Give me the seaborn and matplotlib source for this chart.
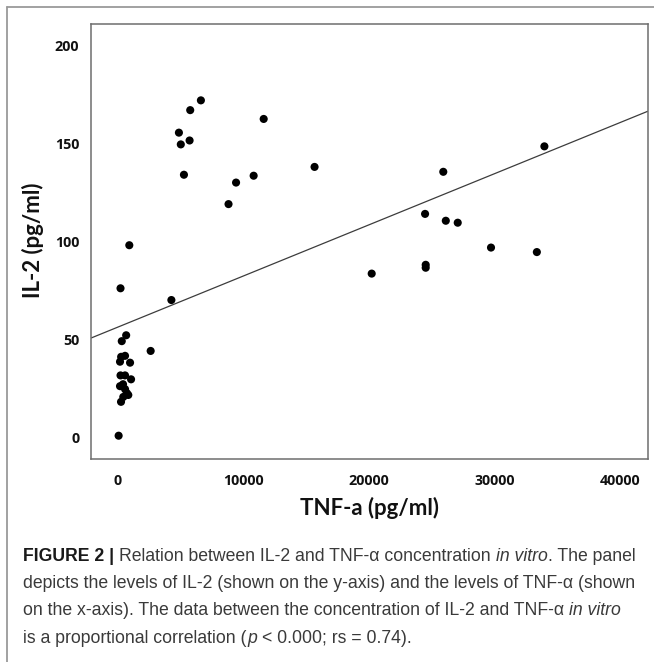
import matplotlib
matplotlib.use("Agg")
import matplotlib.pyplot as plt
import seaborn as sns
from matplotlib.lines import Line2D

# Values
tnf_pgml = [
    6600, 5750, 11600, 4850, 5700, 5000, 15650, 5250, 10800, 9400, 8800, 900, 200, 4250,
    25900, 33950, 24450, 26100, 27050, 29700, 33350, 20200, 24500, 24500,
    300, 650, 2600, 160, 560, 960, 250, 560, 1040, 200, 160, 560, 820, 420, 240, 50, 400, 700,
]
il2_pgml = [
    172, 167, 162.5, 155.5, 151.5, 149.5, 138, 134, 133.5, 130, 119, 98, 76, 70,
    135.5, 148.5, 114, 110.5, 109.5, 96.8, 94.5, 83.5, 88, 86.5,
    49, 52, 44, 38.5, 41.5, 38, 41, 31.5, 29.5, 31.5, 26, 24.5, 21.5, 20.5, 18, 0.7, 27, 22.5,
]

# fitted line
fit_intercept = 56.2
fit_slope = 0.002613

x_ticks = [0, 10000, 20000, 30000, 40000]
y_ticks = [0, 50, 100, 150, 200]

x_label = "TNF-a (pg/ml)"
y_label = "IL-2 (pg/ml)"

# caption runs: (text, weight, style, space after)
caption_lines = [
    [("FIGURE 2 |", "bold", "normal", True),
     ("Relation between IL-2 and TNF-α concentration", "normal", "normal", True),
     ("in vitro", "normal", "italic", False),
     (". The panel", "normal", "normal", False)],
    [("depicts the levels of IL-2 (shown on the y-axis) and the levels of TNF-α (shown",
      "normal", "normal", False)],
    [("on the x-axis). The data between the concentration of IL-2 and TNF-α",
      "normal", "normal", True),
     ("in vitro", "normal", "italic", False)],
    [("is a proportional correlation (", "normal", "normal", False),
     ("p", "normal", "italic", True),
     ("< 0.000; rs = 0.74).", "normal", "normal", False)],
]

W, H = 654, 662
sns.set_style("white")
plt.rcParams["font.family"] = ["Lato", "DejaVu Sans"]

fig = plt.figure(figsize=(W / 100, H / 100), dpi=100)
ax = fig.add_axes([91 / W, 1 - 459 / H, (648 - 91) / W, (459 - 24) / H])

sns.scatterplot(x=tnf_pgml, y=il2_pgml, color="black", s=34, edgecolor="none", ax=ax)
ax.axline((0, fit_intercept), slope=fit_slope, color="#3c3c3c", lw=0.9)

ax.set_xlim(-2150, 42200)
ax.set_ylim(-11.2, 211)
ax.set_xticks(x_ticks)
ax.set_yticks(y_ticks)
tick_font = dict(fontsize=10.3, fontweight="bold", family=["Open Sans", "DejaVu Sans"],
                 color="#111111")
ax.set_xticklabels([str(v) for v in x_ticks], **tick_font)
ax.set_yticklabels([str(v) for v in y_ticks], **tick_font)
ax.tick_params(axis="both", direction="out", length=8, width=1.1, color="#6e6e6e")
ax.tick_params(axis="x", pad=2.5)
ax.tick_params(axis="y", pad=0.5)
for sp in ax.spines.values():
    sp.set_color("#6e6e6e")
    sp.set_linewidth(1.1)

ax.set_xlabel(x_label, fontsize=16, fontweight="bold", color="#111111")
ax.set_ylabel(y_label, fontsize=16, fontweight="bold", color="#111111")
ax.xaxis.set_label_coords(0.5, (459 - 508) / 435)
ax.xaxis.label.set_va("center")
ax.yaxis.set_label_coords((33 - 91) / 557, (459 - 240) / 435)
ax.yaxis.label.set_va("center")

# outer frame (top and left edge)
frame_kw = dict(color="#9a9a9a", lw=1.3, transform=fig.transFigure)
fig.add_artist(Line2D([7 / W, 1], [1 - 7 / H, 1 - 7 / H], **frame_kw))
fig.add_artist(Line2D([7 / W, 7 / W], [0, 1 - 7 / H], **frame_kw))

# caption, drawn run by run
cap_family = ["Liberation Sans Narrow", "Liberation Sans", "DejaVu Sans"]
cap_size = 12.7
baselines = [561, 588, 615, 643]
renderer = fig.canvas.get_renderer()
probe = fig.text(0, 0, "n n", fontsize=cap_size, family=cap_family)
probe2 = fig.text(0, 0, "nn", fontsize=cap_size, family=cap_family)
space_w = probe.get_window_extent(renderer).width - probe2.get_window_extent(renderer).width
probe.remove()
probe2.remove()

for base, runs in zip(baselines, caption_lines):
    x_px = 23
    for text, weight, style, space in runs:
        color = "#1a1a1a" if weight == "bold" else "#3a3a3a"
        t = fig.text(x_px / W, 1 - base / H, text, fontsize=cap_size, fontweight=weight,
                     fontstyle=style, family=cap_family, color=color, va="baseline")
        x_px = t.get_window_extent(renderer).x1 + (space_w if space else 0.5)

fig.savefig("out.png", dpi=100)
